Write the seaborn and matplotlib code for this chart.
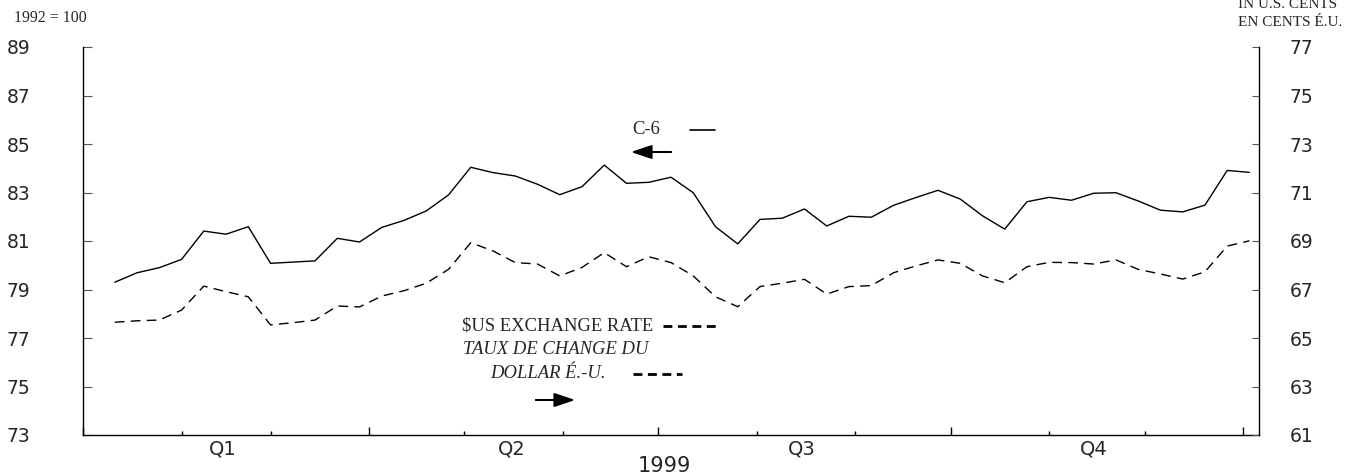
import matplotlib
matplotlib.use("Agg")
import matplotlib.pyplot as plt
import matplotlib.dates as mdates
import seaborn as sns
import pandas as pd

# ---- data ----
week_start = "1999-01-11"
n_weeks = 52
c6_index = [79.30, 79.69, 79.90, 80.24, 81.41, 81.28, 81.59, 80.08, 80.13, 80.18,
            81.11, 80.96, 81.56, 81.85, 82.24, 82.90, 84.04, 83.82, 83.68, 83.34,
            82.91, 83.24, 84.13, 83.38, 83.42, 83.63, 82.99, 81.59, 80.88, 81.89,
            81.94, 82.32, 81.62, 82.02, 81.98, 82.47, 82.79, 83.09, 82.73, 82.04,
            81.49, 82.62, 82.80, 82.68, 82.97, 82.99, 82.65, 82.27, 82.20, 82.48,
            83.91, 83.83]
usd_cents = [65.65, 65.71, 65.74, 66.15, 67.14, 66.91, 66.70, 65.54, 65.63, 65.74,
             66.32, 66.28, 66.73, 66.95, 67.26, 67.83, 68.93, 68.59, 68.11, 68.05,
             67.56, 67.91, 68.52, 67.94, 68.35, 68.11, 67.56, 66.70, 66.29, 67.12,
             67.26, 67.42, 66.81, 67.12, 67.16, 67.69, 67.97, 68.22, 68.08, 67.56,
             67.28, 67.94, 68.12, 68.11, 68.05, 68.22, 67.83, 67.64, 67.43, 67.73,
             68.79, 69.01]
left_ticks = [73, 75, 77, 79, 81, 83, 85, 87, 89]
right_ticks = [61, 63, 65, 67, 69, 71, 73, 75, 77]
quarter_labels = ["Q1", "Q2", "Q3", "Q4"]
quarter_mid = ["1999-02-14", "1999-05-16", "1999-08-15", "1999-11-15"]
year_label = "1999"

dates = pd.date_range(week_start, periods=n_weeks, freq="W-MON")
df = pd.DataFrame({"date": dates, "c6": c6_index, "usd": usd_cents})

sns.set_style("white")
plt.rcParams["font.family"] = ["DejaVu Sans"]

W, H = 1358, 476
fig = plt.figure(figsize=(W / 100, H / 100), dpi=100)
ax = fig.add_axes([83 / W, 1 - 435 / H, (1259 - 83) / W, (435 - 47) / H])
ax2 = ax.twinx()

sns.lineplot(data=df, x="date", y="c6", ax=ax, color="black", linewidth=1.0)
sns.lineplot(data=df, x="date", y="usd", ax=ax2, color="black", linewidth=1.0)
ax2.lines[0].set_dashes((7, 4.5))

ax.set_ylim(73, 89)
ax2.set_ylim(61, 77)
ax.set_xlim(pd.Timestamp("1999-01-01"), pd.Timestamp("2000-01-06"))

for a in (ax, ax2):
    a.set_xlabel("")
    a.set_ylabel("")
    a.spines["top"].set_visible(False)
    for s in a.spines.values():
        s.set_color("black")
        s.set_linewidth(1.0)
ax.spines["right"].set_visible(False)
ax2.spines["left"].set_visible(False)
ax2.spines["bottom"].set_visible(False)

ax.set_yticks(left_ticks)
ax2.set_yticks(right_ticks)
ax.tick_params(axis="y", direction="in", length=6.5, width=0.8, color="#555555",
               labelsize=13.5, left=True)
ax2.tick_params(axis="y", direction="in", length=5, width=0.8, color="#555555",
                pad=22, labelsize=13.5, right=True)
for lab in ax.get_yticklabels():
    lab.set_horizontalalignment("left")
ax.tick_params(axis="y", pad=55)

ax.xaxis.set_major_locator(mdates.MonthLocator(bymonth=[1, 4, 7, 10]))
ax.xaxis.set_minor_locator(mdates.MonthLocator())
ax.xaxis.set_major_formatter(plt.NullFormatter())
ax.tick_params(axis="x", which="major", direction="in", length=6, width=1.0,
               color="black", bottom=True)
ax.tick_params(axis="x", which="minor", direction="in", length=3, width=1.0,
               color="black", bottom=True)

for lab, d in zip(quarter_labels, quarter_mid):
    ax.text(pd.Timestamp(d), -0.036, lab, transform=ax.get_xaxis_transform(),
            ha="center", va="center", fontsize=14)
fig.text(664 / W, 1 - 466 / H, year_label, ha="center", va="center", fontsize=15)

serif = ["Liberation Serif", "DejaVu Serif"]
fig.text(14 / W, 1 - 18 / H, "1992 = 100", ha="left", va="center",
         fontsize=11.4, family=serif)
fig.text(1288 / W, 1 - 5 / H, "IN U.S. CENTS", ha="center", va="center",
         fontsize=11, family=serif)
fig.text(1290 / W, 1 - 22 / H, "EN CENTS É.U.", ha="center", va="center",
         fontsize=11, family=serif)

# legend annotations
fig.text(632 / W, 1 - 130 / H, "C-6", ha="left", va="center", fontsize=13.4, family=serif)
fig.add_artist(plt.Line2D([690 / W, 715 / W], [1 - 130 / H, 1 - 130 / H],
                          color="black", linewidth=1.2))
ax.annotate("", xy=(628 / W, 1 - 152 / H), xytext=(674 / W, 1 - 152 / H),
            xycoords="figure fraction", textcoords="figure fraction",
            arrowprops=dict(arrowstyle="-|>,head_length=0.9,head_width=0.3",
                            color="black", lw=1.5, mutation_scale=14))

fig.text(462 / W, 1 - 326 / H, "$US EXCHANGE RATE", ha="left", va="center",
         fontsize=13.4, family=serif)
fig.add_artist(plt.Line2D([663 / W, 717 / W], [1 - 326 / H, 1 - 326 / H],
                          color="black", linewidth=2.0, dashes=(3.2, 2.0)))
fig.text(463 / W, 1 - 349 / H, "TAUX DE CHANGE DU", ha="left", va="center",
         fontsize=13.4, family=serif, style="italic")
fig.text(490 / W, 1 - 373 / H, "DOLLAR É.-U.", ha="left", va="center",
         fontsize=13.4, family=serif, style="italic")
fig.add_artist(plt.Line2D([633 / W, 682 / W], [1 - 374 / H, 1 - 374 / H],
                          color="black", linewidth=2.0, dashes=(3.2, 2.0)))
ax.annotate("", xy=(578 / W, 1 - 400 / H), xytext=(533 / W, 1 - 400 / H),
            xycoords="figure fraction", textcoords="figure fraction",
            arrowprops=dict(arrowstyle="-|>,head_length=0.9,head_width=0.3",
                            color="black", lw=1.5, mutation_scale=14))

fig.savefig("out.png", dpi=100)
